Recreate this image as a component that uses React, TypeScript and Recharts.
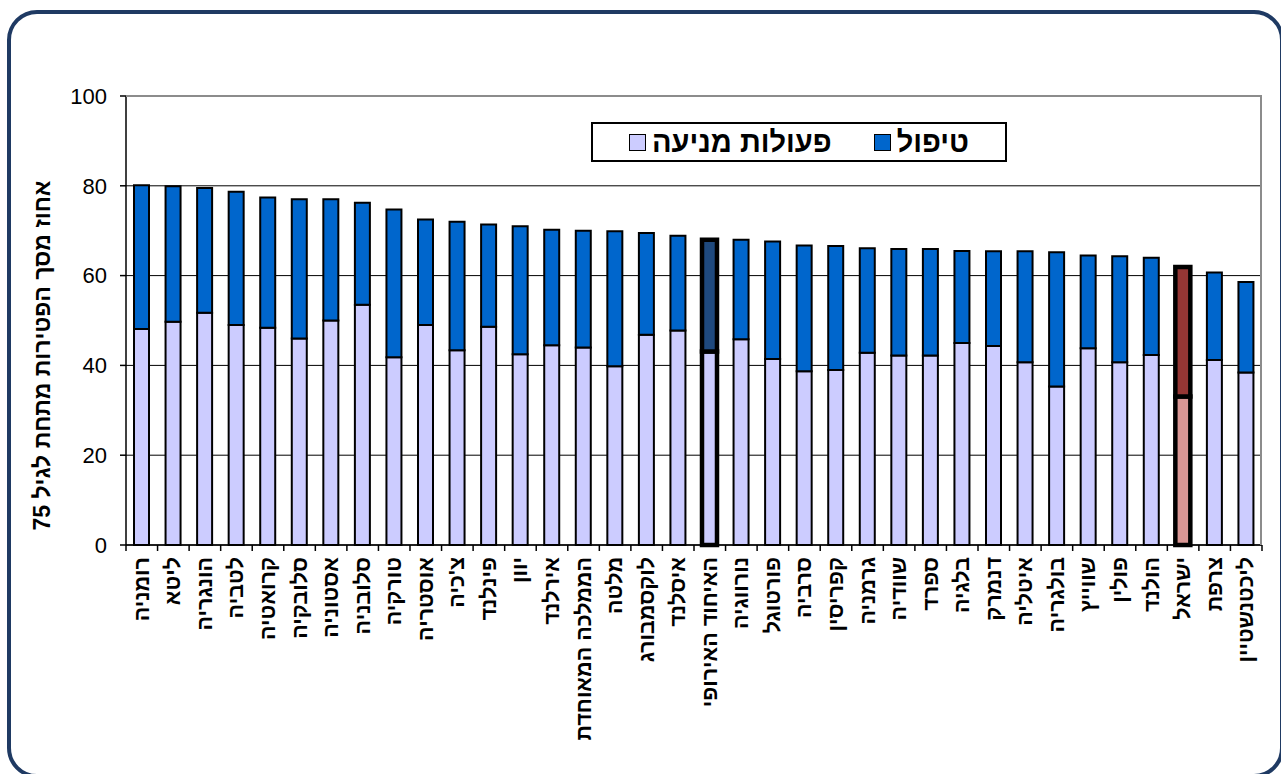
import React from 'react';
import { Bar, BarChart, CartesianGrid, Cell, XAxis, YAxis } from 'recharts';

// Countries, ordered by total share (highest first)
const countries = [
  'רומניה', 'ליטא', 'הונגריה', 'לטביה', 'קרואטיה', 'סלובקיה', 'אסטוניה', 'סלובניה', 'טורקיה',
  'אוסטריה', "צ'כיה", 'פינלנד', 'יוון', 'אירלנד', 'הממלכה המאוחדת', 'מלטה', 'לוקסמבורג', 'איסלנד',
  'האיחוד האירופי', 'נורווגיה', 'פורטוגל', 'סרביה', 'קפריסין', 'גרמניה', 'שוודיה', 'ספרד', 'בלגיה',
  'דנמרק', 'איטליה', 'בולגריה', 'שווייץ', 'פולין', 'הולנד', 'ישראל', 'צרפת', 'ליכטנשטיין',
];

// Prevention share (bottom segment)
const prevention = [
  48.1, 49.7, 51.7, 49.0, 48.4, 46.0, 50.0, 53.5, 41.8,
  49.0, 43.4, 48.6, 42.5, 44.5, 44.0, 39.8, 46.8, 47.8,
  43.1, 45.8, 41.4, 38.7, 39.0, 42.8, 42.2, 42.2, 45.0,
  44.3, 40.7, 35.3, 43.8, 40.7, 42.3, 33.1, 41.2, 38.4,
];

// Treatment share (top segment)
const treatment = [
  32.0, 30.2, 27.8, 29.7, 29.0, 31.0, 27.0, 22.7, 32.9,
  23.5, 28.6, 22.8, 28.5, 25.7, 26.0, 30.1, 22.7, 21.1,
  24.9, 22.2, 26.2, 28.0, 27.6, 23.3, 23.7, 23.7, 20.5,
  21.1, 24.7, 29.9, 20.7, 23.6, 21.7, 28.8, 19.5, 20.2,
];

const yTicks = [0, 20, 40, 60, 80, 100];

const PREV = '#CCCCFF';
const TREAT = '#0066CC';
const FONT = "'Liberation Sans', Arial, sans-serif";

const EU = 'האיחוד האירופי';
const IL = 'ישראל';

const data = countries.map((name, i) => ({
  name,
  prevention: prevention[i],
  treatment: treatment[i],
}));

const prevFill = (name: string) => (name === IL ? '#D99694' : PREV);
const treatFill = (name: string) => (name === EU ? '#1F497D' : name === IL ? '#943634' : TREAT);
const strokeW = (name: string) => (name === EU || name === IL ? 4.5 : 2);

const CountryTick = (props: any) => {
  const { x, y, payload, index, visibleTicksCount, width } = props;
  const half = payload.offset || width / visibleTicksCount / 2;
  return (
    <g>
      <line x1={x - half} y1={y} x2={x - half} y2={y + 6} stroke='#000' strokeWidth={1.5} />
      {index === visibleTicksCount - 1 && (
        <line x1={x + half} y1={y} x2={x + half} y2={y + 6} stroke='#000' strokeWidth={1.5} />
      )}
      <text
        x={x}
        y={y + 12}
        transform={`rotate(-90, ${x}, ${y + 12})`}
        textAnchor='end'
        dominantBaseline='central'
        fontFamily={FONT}
        fontWeight='bold'
        fontSize={21.5}
        fill='#000'
      >
        {payload.value}
      </text>
    </g>
  );
};

const Swatch = ({ color }: { color: string }) => (
  <span style={{ width: 15, height: 15, background: color, border: '1.5px solid #000', marginRight: 6, flex: 'none' }} />
);

// legend box drawn over the plot, as in the original
const LegendBox = () => (
  <div
    style={{
      position: 'absolute',
      left: 591,
      top: 122,
      width: 412,
      height: 36,
      border: '2px solid #000',
      background: '#fff',
      display: 'flex',
      alignItems: 'center',
      justifyContent: 'center',
      gap: 42,
      fontFamily: FONT,
      fontWeight: 'bold',
      fontSize: 29,
      lineHeight: 1,
    }}
  >
    <span style={{ display: 'flex', alignItems: 'center' }}>
      <Swatch color={PREV} />
      <span dir='rtl'>פעולות מניעה</span>
    </span>
    <span style={{ display: 'flex', alignItems: 'center' }}>
      <Swatch color={TREAT} />
      <span dir='rtl'>טיפול</span>
    </span>
  </div>
);

export default function App() {
  return (
    <div style={{ position: 'fixed', left: 0, top: 0, width: 1281, height: 774, overflow: 'hidden', background: '#fff' }}>
      {/* rounded frame, cut off at right and bottom */}
      <div
        style={{
          position: 'absolute',
          left: 7,
          top: 10,
          width: 1277,
          height: 768,
          border: '4px solid #1F3A63',
          borderRadius: 30,
          boxSizing: 'border-box',
        }}
      />
      <div style={{ position: 'absolute', left: 0, top: 0 }}>
        <BarChart
          width={1281}
          height={774}
          data={data}
          margin={{ top: 96, right: 19, left: 0, bottom: 0 }}
          barSize={15}
        >
          <CartesianGrid vertical={false} stroke='#000' strokeWidth={1} />
          <XAxis
            dataKey='name'
            interval={0}
            height={229}
            tickLine={false}
            tickSize={0}
            tickMargin={0}
            axisLine={{ stroke: '#000', strokeWidth: 1.5 }}
            tick={<CountryTick />}
          />
          <YAxis
            width={126}
            domain={[0, 100]}
            ticks={yTicks}
            interval={0}
            tickSize={6}
            tickMargin={13}
            axisLine={{ stroke: '#000', strokeWidth: 1.5 }}
            tickLine={{ stroke: '#000', strokeWidth: 1.5 }}
            tick={{ fontFamily: FONT, fontSize: 22, fill: '#000' }}
            label={{
              value: 'אחוז מסך הפטירות מתחת לגיל 75',
              angle: -90,
              position: 'insideLeft',
              dx: 37,
              dy: 35,
              style: { fontFamily: FONT, fontWeight: 'bold', fontSize: 23, fill: '#000', textAnchor: 'middle' },
            }}
          />
          <Bar dataKey='prevention' stackId='a' name='פעולות מניעה' fill={PREV} stroke='#000' isAnimationActive={false}>
            {data.map((d) => (
              <Cell key={d.name} fill={prevFill(d.name)} stroke='#000' strokeWidth={strokeW(d.name)} />
            ))}
          </Bar>
          <Bar dataKey='treatment' stackId='a' name='טיפול' fill={TREAT} stroke='#000' isAnimationActive={false}>
            {data.map((d) => (
              <Cell key={d.name} fill={treatFill(d.name)} stroke='#000' strokeWidth={strokeW(d.name)} />
            ))}
          </Bar>
        </BarChart>
      </div>
      {/* grey plot border on top and right */}
      <div style={{ position: 'absolute', left: 126, top: 95, width: 1136, height: 450, borderTop: '2px solid #8C8C8C', borderRight: '2px solid #8C8C8C', boxSizing: 'border-box', pointerEvents: 'none' }} />
      <LegendBox />
    </div>
  );
}
